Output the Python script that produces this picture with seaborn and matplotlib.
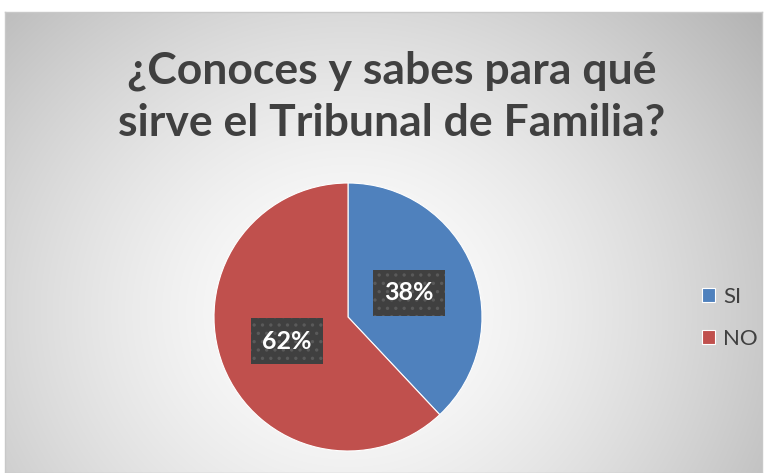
import numpy as np
import matplotlib.pyplot as plt
import seaborn as sns

# datos
labels = ["SI", "NO"]
values = [38, 62]
colors = ["#4F81BD", "#C0504D"]
title = "¿Conoces y sabes para qué\nsirve el Tribunal de Familia?"

sns.set_theme(style="white")
plt.rcParams['font.family'] = ['Lato', 'DejaVu Sans']
plt.rcParams['hatch.color'] = '#5a5a5a'
plt.rcParams['hatch.linewidth'] = 1.2

W, H = 768, 473
fig = plt.figure(figsize=(W / 100, H / 100), dpi=100)
fig.patch.set_facecolor('white')

# fondo con degradado radial
bg = fig.add_axes([5 / W, 0, (762 - 5) / W, (H - 12) / H])
yy, xx = np.mgrid[0:461, 0:757]
cx, cy = 343, 300
r = np.sqrt(((xx - cx) / 430.0) ** 2 + ((yy - cy) / 390.0) ** 2)
shade = 1.0 - 0.22 * np.clip(r, 0, 1.3) ** 1.5
img = np.dstack([shade, shade, shade])
bg.imshow(img, aspect='auto', extent=[0, 1, 0, 1], origin='upper')
bg.set_xticks([])
bg.set_yticks([])
for s in bg.spines.values():
    s.set_edgecolor('#c8c8c8')
    s.set_linewidth(1)

fig.text(392 / W, 1 - 97 / H, title, ha='center', va='center',
         fontsize=32, fontweight='bold', color='#404040', linespacing=1.35)

# pastel
pcx, pcy, rad = 348, 317, 134
ax = fig.add_axes([(pcx - rad) / W, (H - pcy - rad) / H, 2 * rad / W, 2 * rad / H])
ax.set_facecolor('none')
wedges, texts, autotexts = ax.pie(
    values, colors=colors, startangle=90, counterclock=False,
    autopct='%1.0f%%', pctdistance=0.49,
    wedgeprops=dict(edgecolor='white', linewidth=0.8),
    textprops=dict(color='white', fontsize=18, fontweight='bold'))
for t in autotexts:
    t.set_bbox(dict(boxstyle='square,pad=0.45', facecolor='#404040',
                    edgecolor='#5a5a5a', linewidth=0, hatch='..'))
ax.set_xlim(-1, 1)
ax.set_ylim(-1, 1)
ax.set_aspect('auto')
ax.axis('off')

leg = fig.legend(wedges, labels, loc='center left',
                 bbox_to_anchor=(702 / W, 1 - 318 / H), frameon=False,
                 borderpad=0, borderaxespad=0,
                 fontsize=16, handlelength=0.6, handleheight=0.6,
                 handletextpad=0.35, labelspacing=1.0, labelcolor='#404040')

fig.savefig('out.png', dpi=100)
